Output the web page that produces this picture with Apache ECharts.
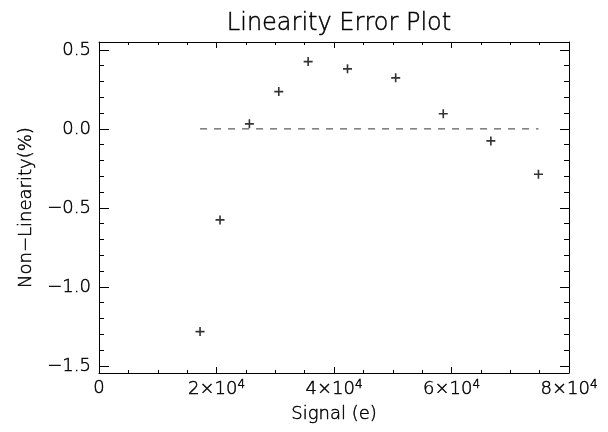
<!DOCTYPE html>
<html>
<head>
<meta charset="utf-8">
<script src="https://cdn.jsdelivr.net/npm/echarts@6/dist/echarts.min.js"></script>
<style>
  html, body { margin: 0; padding: 0; background: #fff; }
  #chart { width: 608px; height: 432px; }
</style>
</head>
<body>
<div id="chart"></div>
<script>
// Measured signal level (electrons) and the non-linearity at each level (%)
const signal = [17200, 20600, 25600, 30600, 35600, 42300, 50500, 58600, 66700, 74800];
const nonLinearity = [-1.283, -0.576, 0.032, 0.236, 0.426, 0.38, 0.323, 0.096, -0.076, -0.287];

// Axis ranges and tick positions
const xRange = [0, 80000];
const xStep = 20000;
const yRange = [-1.545, 0.55];
const yMajorTicks = [-1.5, -1.0, -0.5, 0.0, 0.5];
const yMinorTicks = [-1.5, -1.4, -1.3, -1.2, -1.1, -1.0, -0.9, -0.8, -0.7, -0.6, -0.5,
                     -0.4, -0.3, -0.2, -0.1, 0.0, 0.1, 0.2, 0.3, 0.4, 0.5];

const INK = '#000';
// thin vector-style lettering
const textFont = (size) => ({
  fontFamily: 'DejaVu Sans', fontSize: size, fontWeight: 200, color: INK,
  textBorderColor: INK, textBorderWidth: 0.45
});

const grid = { left: 99, right: 39, top: 42, bottom: 59 };

// zero reference running across the measured signal span
const zeroLine = [[signal[0], 0], [signal[signal.length - 1], 0]];

const fmtY = v => (v < 0 ? '\u2212' : '') + Math.abs(v).toFixed(1);
const fmtX = v => v === 0 ? '0' : '{b|' + (v / 1e4) + '\u00d710}{s|4}';

const xBase = {
  type: 'value', min: xRange[0], max: xRange[1], interval: xStep,
  axisLine: { show: true, onZero: false, lineStyle: { color: INK, width: 1 } },
  axisTick: { show: true, inside: true, length: 6, lineStyle: { color: INK } },
  minorTick: { show: true, splitNumber: 4, length: 3, lineStyle: { color: INK } },
  splitLine: { show: false }
};

const yTicksAxis = (pos, values, len, withLabels) => ({
  type: 'value', position: pos, min: yRange[0], max: yRange[1],
  axisLine: { show: withLabels !== null, onZero: false, lineStyle: { color: INK, width: 1 } },
  axisTick: { show: true, inside: true, length: len, customValues: values, lineStyle: { color: INK } },
  axisLabel: withLabels ? Object.assign({
    show: true, customValues: values, formatter: fmtY, margin: 8
  }, textFont(18)) : { show: false },
  splitLine: { show: false }
});

const chart = echarts.init(document.getElementById('chart'), null, { renderer: 'canvas' });

const yLeft = yTicksAxis('left', yMajorTicks, 10, true);
Object.assign(yLeft, {
  name: 'Non\u2212Linearity(%)', nameLocation: 'middle', nameGap: 64,
  nameTextStyle: textFont(18)
});

chart.setOption({
  animation: false,
  backgroundColor: '#fff',
  title: {
    text: 'Linearity Error Plot',
    left: grid.left + (608 - grid.left - grid.right) / 2,
    textAlign: 'center',
    top: 7,
    textStyle: textFont(24)
  },
  grid: grid,
  xAxis: [
    Object.assign({}, xBase, {
      position: 'bottom',
      name: 'Signal (e)', nameLocation: 'middle', nameGap: 32,
      nameTextStyle: textFont(18),
      axisLabel: Object.assign({
        show: true, margin: 6, formatter: fmtX, showMinLabel: true, showMaxLabel: true,
        rich: {
          b: textFont(18),
          s: Object.assign(textFont(12), { padding: [0, 0, 9, 0] })
        }
      }, textFont(18))
    }),
    Object.assign({}, xBase, { position: 'top', axisLabel: { show: false } })
  ],
  yAxis: [
    yLeft,
    yTicksAxis('right', yMajorTicks, 9, false),
    yTicksAxis('left', yMinorTicks, 5, null),
    yTicksAxis('right', yMinorTicks, 5, null)
  ],
  series: [
    {
      type: 'line',
      data: zeroLine,
      showSymbol: false,
      symbol: 'none',
      silent: true,
      lineStyle: { color: '#333', width: 1, type: [7, 7] }
    },
    {
      type: 'scatter',
      data: signal.map((s, i) => [s, nonLinearity[i]]),
      symbol: 'path://M0,4.1H10V5.9H0Z M4.1,0H5.9V10H4.1Z',
      symbolSize: 9,
      itemStyle: { color: INK }
    }
  ]
});
</script>
</body>
</html>
